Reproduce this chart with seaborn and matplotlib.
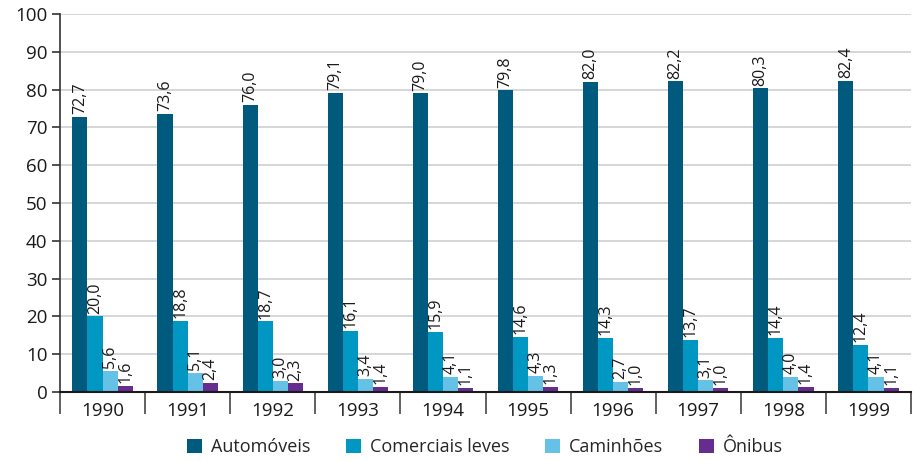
import matplotlib
matplotlib.use("Agg")
import matplotlib.pyplot as plt
import seaborn as sns
import pandas as pd
import numpy as np

years = ["1990", "1991", "1992", "1993", "1994", "1995", "1996", "1997", "1998", "1999"]
series = ["Automóveis", "Comerciais leves", "Caminhões", "Ônibus"]
automoveis = [72.7, 73.6, 76.0, 79.1, 79.0, 79.8, 82.0, 82.2, 80.3, 82.4]
comerciais = [20.0, 18.8, 18.7, 16.1, 15.9, 14.6, 14.3, 13.7, 14.4, 12.4]
caminhoes = [5.6, 5.1, 3.0, 3.4, 4.1, 4.3, 2.7, 3.1, 4.0, 4.1]
onibus = [1.6, 2.4, 2.3, 1.4, 1.1, 1.3, 1.0, 1.0, 1.4, 1.1]
colors = ["#005a7e", "#0098c2", "#66c1e6", "#672c8f"]
yticks = [0, 10, 20, 30, 40, 50, 60, 70, 80, 90, 100]

rows = []
for name, vals in zip(series, [automoveis, comerciais, caminhoes, onibus]):
    for y, v in zip(years, vals):
        rows.append({"Ano": y, "Tipo": name, "Valor": v})
df = pd.DataFrame(rows)

sns.set_theme(style="white")
plt.rcParams['font.family'] = ['Open Sans', 'DejaVu Sans']

fig = plt.figure(figsize=(9.13, 4.61), dpi=100)
ax = fig.add_axes([60/913, 1-392/461, (911-60)/913, (392-14)/461])

sns.barplot(data=df, x="Ano", y="Valor", hue="Tipo", order=years, hue_order=series,
            palette=colors, width=0.71, saturation=1, ax=ax, legend=True,
            linewidth=0, edgecolor="none")

for cont in ax.containers:
    ax.bar_label(cont, labels=[f"{v:.1f}".replace(".", ",") for v in cont.datavalues],
                 rotation=90, padding=2, fontsize=11.5, color="#1a1a1a")

ax.set_ylim(0, 100)
ax.set_xlim(-0.5, 9.5)
ax.set_yticks(yticks)
ax.set_yticklabels([str(t) for t in yticks], fontsize=13.5, color="#1a1a1a")
ax.yaxis.grid(True, color="#d0d0d0", linewidth=1.2)
ax.set_axisbelow(True)
ax.tick_params(axis="y", length=6, width=1.2, color="#333333", left=True, pad=3)
ax.set_xticks(np.arange(10))
ax.set_xticklabels(years, fontsize=13.5, color="#1a1a1a")
ax.set_xticks(np.arange(-0.5, 10.0, 1.0), minor=True)
ax.tick_params(axis="x", which="major", length=0, pad=7)
ax.tick_params(axis="x", which="minor", length=16, width=1.3, color="#555555", bottom=True)
ax.set_xlabel("")
ax.set_ylabel("")
for s in ["top", "right"]:
    ax.spines[s].set_visible(False)
ax.spines["left"].set_color("#333333")
ax.spines["left"].set_linewidth(1.2)
ax.spines["bottom"].set_color("#1a1a1a")
ax.spines["bottom"].set_linewidth(1.5)

handles, labels = ax.get_legend_handles_labels()
ax.legend_.remove()
fig.legend(handles, labels, loc="center", bbox_to_anchor=(485/913, 1-447/461), ncol=4,
           frameon=False, fontsize=13, handlelength=0.8, handleheight=0.8,
           columnspacing=2.0, handletextpad=0.5)

fig.savefig("out.png", dpi=100)
